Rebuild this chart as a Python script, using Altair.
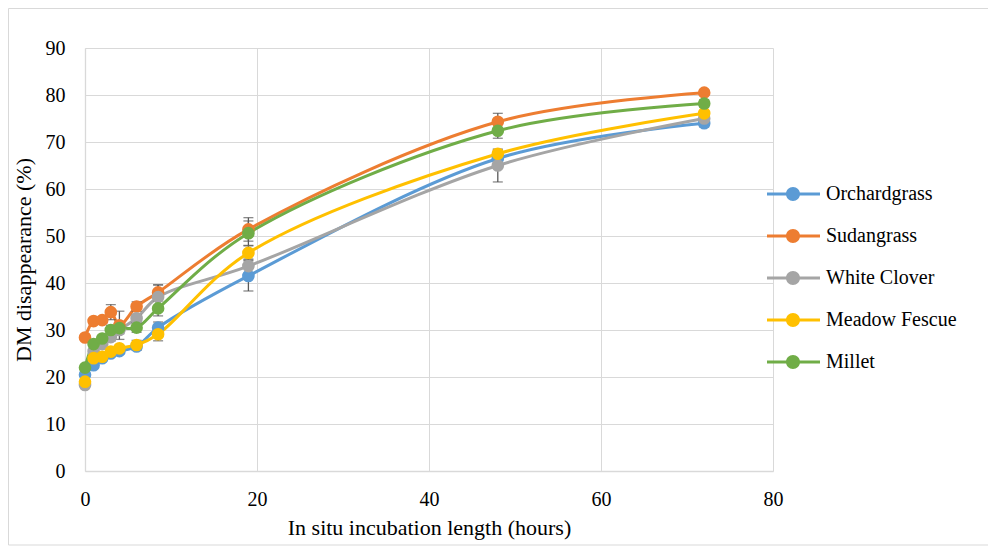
import altair as alt
import pandas as pd

# ---- data ----
hours = [0, 1, 2, 3, 4, 6, 8.5, 19, 48, 72]
series = ["Orchardgrass", "Sudangrass", "White Clover", "Meadow Fescue", "Millet"]
colors = ["#5B9BD5", "#ED7D31", "#A5A5A5", "#FFC000", "#70AD47"]

orchardgrass = [20.5, 22.5, 24.0, 25.0, 25.5, 26.5, 30.5, 41.5, 66.5, 74.0]
sudangrass = [28.4, 31.9, 32.1, 33.8, 31.0, 35.0, 38.0, 51.4, 74.3, 80.5]
white_clover = [18.3, 25.5, 27.0, 28.5, 30.0, 32.5, 37.0, 43.6, 65.0, 75.0]
meadow_fescue = [19.0, 24.0, 24.3, 25.4, 26.1, 26.8, 29.1, 46.4, 67.5, 76.1]
millet = [22.0, 27.0, 28.2, 30.0, 30.4, 30.5, 34.6, 50.6, 72.4, 78.2]

# standard errors (error bars)
se_orchardgrass = [0.5, 0.5, 0.5, 0.5, 0.5, 0.8, 1.2, 3.2, 1.5, 0.8]
se_sudangrass = [0.5, 0.6, 0.6, 1.6, 3.0, 1.0, 1.6, 2.5, 1.8, 0.6]
se_white_clover = [0.5, 0.5, 0.5, 0.8, 0.8, 0.8, 2.6, 1.5, 3.5, 0.8]
se_meadow_fescue = [0.5, 0.5, 0.5, 0.5, 0.6, 1.0, 1.4, 1.5, 0.8, 0.6]
se_millet = [0.5, 0.8, 0.6, 1.0, 1.0, 1.0, 1.6, 2.6, 1.6, 0.8]

y_ticks = [0, 10, 20, 30, 40, 50, 60, 70, 80, 90]
x_ticks = [0, 20, 40, 60, 80]

values = [orchardgrass, sudangrass, white_clover, meadow_fescue, millet]
errors = [se_orchardgrass, se_sudangrass, se_white_clover, se_meadow_fescue, se_millet]

rows = []
for i, (s, vals, errs) in enumerate(zip(series, values, errors)):
    for h, v, e in zip(hours, vals, errs):
        rows.append({"hours": h, "dm": v, "series": s, "idx": i, "lo": v - e, "hi": v + e})
df = pd.DataFrame(rows)

FONT = "Liberation Serif"
GRID = "#D9D9D9"

color_scale = alt.Scale(domain=series, range=colors)
x_scale = alt.Scale(domain=[0, 80], nice=False, padding=0, zero=True)
y_scale = alt.Scale(domain=[0, 90], nice=False, padding=0)

x_axis = alt.Axis(
    values=x_ticks,
    title="In situ incubation length (hours)",
    labelFont=FONT, labelFontSize=20, labelColor="#000000", labelPadding=18,
    labelFlush=False,
    titleFont=FONT, titleFontSize=22, titleFontWeight="normal", titleColor="#000000",
    titlePadding=8,
)
y_axis = alt.Axis(
    values=y_ticks,
    title="DM disappearance (%)",
    labelFont=FONT, labelFontSize=20, labelColor="#000000", labelPadding=20,
    labelFlush=False,
    titleFont=FONT, titleFontSize=22, titleFontWeight="normal", titleColor="#000000",
    titlePadding=10,
)

legend_path = (
    "M-2.6,-0.15L2.7,-0.15L2.7,0.15L-2.6,0.15Z "
    "M0.7,0A0.7,0.7,0,1,1,-0.7,0A0.7,0.7,0,1,1,0.7,0Z"
)
legend = alt.Legend(
    title=None,
    orient="none",
    legendX=698,
    legendY=136,
    symbolType=legend_path,
    symbolSize=400,
    symbolStrokeWidth=0,
    symbolOpacity=1,
    labelFont=FONT,
    labelFontSize=20,
    labelColor="#000000",
    labelOffset=23,
    rowPadding=22,
)
color_enc = alt.Color("series:N", scale=color_scale, sort=series, legend=legend)

base = alt.Chart(df)

lines = base.mark_line(interpolate="catmull-rom", strokeWidth=3).encode(
    x=alt.X("hours:Q", scale=x_scale, axis=x_axis),
    y=alt.Y("dm:Q", scale=y_scale, axis=y_axis),
    color=color_enc,
    detail="series:N",
)

points = base.mark_point(filled=True, size=160, opacity=1).encode(
    x=alt.X("hours:Q", scale=x_scale),
    y=alt.Y("dm:Q", scale=y_scale),
    color=color_enc,
    order=alt.Order("idx:Q"),
)

err_color = "#595959"
err_rules = base.mark_rule(color=err_color, strokeWidth=1.3).encode(
    x=alt.X("hours:Q", scale=x_scale), y=alt.Y("lo:Q", scale=y_scale), y2="hi:Q"
)
cap_lo = base.mark_tick(color=err_color, thickness=1.3, size=10, orient="horizontal").encode(
    x=alt.X("hours:Q", scale=x_scale), y=alt.Y("lo:Q", scale=y_scale)
)
cap_hi = base.mark_tick(color=err_color, thickness=1.3, size=10, orient="horizontal").encode(
    x=alt.X("hours:Q", scale=x_scale), y=alt.Y("hi:Q", scale=y_scale)
)

frame = alt.Chart(pd.DataFrame({"a": [0]})).mark_rect(
    fill="transparent", stroke=GRID, strokeWidth=1
).encode(
    x=alt.value(-76.5), x2=alt.value(905), y=alt.value(-39.5), y2=alt.value(497)
)

chart = (
    alt.layer(frame, lines, err_rules, cap_lo, cap_hi, points)
    .properties(
        width=688,
        height=423,
        autosize=alt.AutoSizeParams(type="none"),
        padding={"left": 77, "top": 40, "right": 215, "bottom": 75},
    )
    .configure_view(stroke="transparent")
    .configure_axis(
        labelFont=FONT,
        titleFont=FONT,
        gridColor=GRID,
        gridWidth=1,
        domainColor=GRID,
        domainWidth=1.3,
        ticks=False,
    )
)

chart.save("out.html", embed_options={"renderer": "svg", "actions": False})
